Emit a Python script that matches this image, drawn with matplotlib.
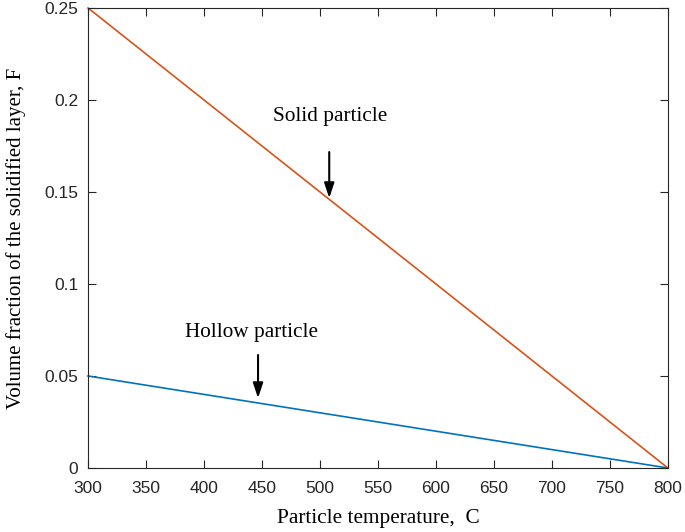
import matplotlib
matplotlib.use("Agg")
import matplotlib.pyplot as plt
from matplotlib.ticker import FixedLocator, FixedFormatter

# Data
temperature = [300, 800]
solid_fraction = [0.25, 0.0]
hollow_fraction = [0.05, 0.0]
x_ticks = [300, 350, 400, 450, 500, 550, 600, 650, 700, 750, 800]
y_ticks = [0, 0.05, 0.1, 0.15, 0.2, 0.25]
y_tick_labels = ["0", "0.05", "0.1", "0.15", "0.2", "0.25"]

fig = plt.figure(figsize=(6.85, 5.32), dpi=100)
ax = fig.add_axes([0.1285, 0.1203, 0.8465, 0.8647])

orange = (0.85, 0.325, 0.098)
blue = (0.0, 0.447, 0.741)
ax.plot(temperature, solid_fraction, color=orange, lw=1.2, clip_on=False)
ax.plot(temperature, hollow_fraction, color=blue, lw=1.2, clip_on=False)

ax.set_xlim(300, 800)
ax.set_ylim(0, 0.25)
ax.xaxis.set_major_locator(FixedLocator(x_ticks))
ax.yaxis.set_major_locator(FixedLocator(y_ticks))
ax.yaxis.set_major_formatter(FixedFormatter(y_tick_labels))

spine_color = "#262626"
for s in ax.spines.values():
    s.set_color(spine_color)
    s.set_linewidth(0.8)
ax.tick_params(direction="in", length=6, width=0.8, color=spine_color,
               top=True, right=True, labelsize=12.5, labelcolor="#262626")
ax.tick_params(axis="x", labeltop=False, pad=9)
ax.tick_params(axis="y", labelright=False, pad=7)
for lab in ax.get_xticklabels() + ax.get_yticklabels():
    lab.set_fontfamily("Liberation Sans")

serif = "Liberation Serif"
ax.set_xlabel("Particle temperature,  C", fontfamily=serif, fontsize=15.3, labelpad=10)
ax.set_ylabel("Volume fraction of the solidified layer, F", fontfamily=serif, fontsize=15, labelpad=13)

ax.text(509, 0.1908, "Solid particle", fontfamily=serif, fontsize=15.3, ha="center", va="center")
ax.text(441, 0.0739, "Hollow particle", fontfamily=serif, fontsize=15.3, ha="center", va="center")

arrow = dict(arrowstyle="-|>,head_width=0.3,head_length=0.9", color="k", lw=1.5,
             shrinkA=0, shrinkB=0)
ax.annotate("", xy=(508, 0.1467), xytext=(508, 0.1717), arrowprops=arrow)
ax.annotate("", xy=(446.6, 0.038), xytext=(446.6, 0.0614), arrowprops=arrow)

fig.savefig("out.png", dpi=100)
